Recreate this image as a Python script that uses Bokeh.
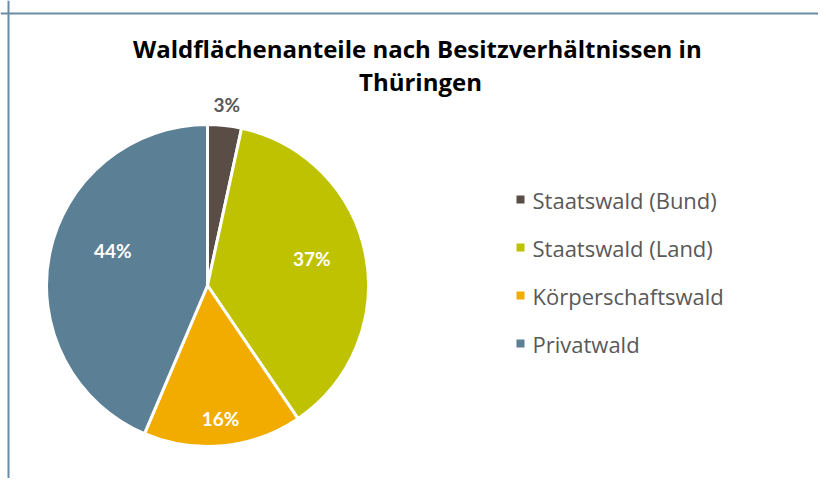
import math
from bokeh.plotting import figure
from bokeh.models import Range1d, Span, ColumnDataSource
from bokeh.core.properties import value
from bokeh.embed import file_html
from bokeh.resources import INLINE

# ---- data ----
categories = ["Staatswald (Bund)", "Staatswald (Land)", "Körperschaftswald", "Privatwald"]
shares = [3.4, 37.1, 15.9, 43.6]
pct_labels = ["3%", "37%", "16%", "44%"]
colors = ["#594D46", "#BFC200", "#F2AC00", "#5B7F95"]
title_lines = ["Waldflächenanteile  nach Besitzverhältnissen in", "Thüringen"]

# ---- styling / layout ----
W, H = 818, 478
cx, cy, R = 207, 193, 161
label_r = [1.13, 0.66, 0.83, 0.60]
label_dy = [0, 7, 0, 16]
label_colors = ["#595959", "white", "white", "white"]

p = figure(width=W, height=H, output_backend="svg", toolbar_location=None,
           x_range=Range1d(0, W), y_range=Range1d(0, H), min_border=0)
p.axis.visible = False
p.grid.visible = False
p.outline_line_color = None
p.background_fill_color = "white"
p.border_fill_color = "white"

total = sum(shares)
starts, ends, lx, ly = [], [], [], []
cum = 0.0
for i, s in enumerate(shares):
    a0 = math.pi / 2 - 2 * math.pi * cum / total
    cum += s
    a1 = math.pi / 2 - 2 * math.pi * cum / total
    starts.append(a0)
    ends.append(a1)
    mid = (a0 + a1) / 2
    lx.append(cx + label_r[i] * R * math.cos(mid))
    ly.append(cy + label_r[i] * R * math.sin(mid) + label_dy[i])

src = ColumnDataSource(dict(start=starts, end=ends, color=colors, cat=categories,
                            lab=pct_labels, lx=lx, ly=ly, lc=label_colors))
p.wedge(x=cx, y=cy, radius=R, radius_units="screen", start_angle="start", end_angle="end",
        direction="clock", fill_color="color", line_color="white", line_width=3, source=src)

p.text(x="lx", y="ly", text="lab", text_color="lc", source=src,
       text_font=value("Lato"), text_font_style="bold", text_font_size="19px",
       text_align="center", text_baseline="middle")

# title
p.text(x=[420, 420], y=[430, 397], text=title_lines, text_font=value("Open Sans"),
       text_font_style="bold", text_font_size="24px", text_color="black",
       text_align="center", text_baseline="middle")

# legend
leg_y = [279, 231, 183, 135]
p.scatter(x=[520] * 4, y=leg_y, marker="square", size=8, fill_color=colors, line_color=None)
p.text(x=[532] * 4, y=leg_y, text=categories, text_font=value("Open Sans"),
       text_font_size="22px", text_color="#595959", text_align="left", text_baseline="middle")

# frame lines
p.add_layout(Span(location=8, dimension="height", line_color="#6A8BA4", line_width=2))
p.add_layout(Span(location=465, dimension="width", line_color="#6A8BA4", line_width=2))

open("out.html", "w").write(file_html(p, INLINE))
